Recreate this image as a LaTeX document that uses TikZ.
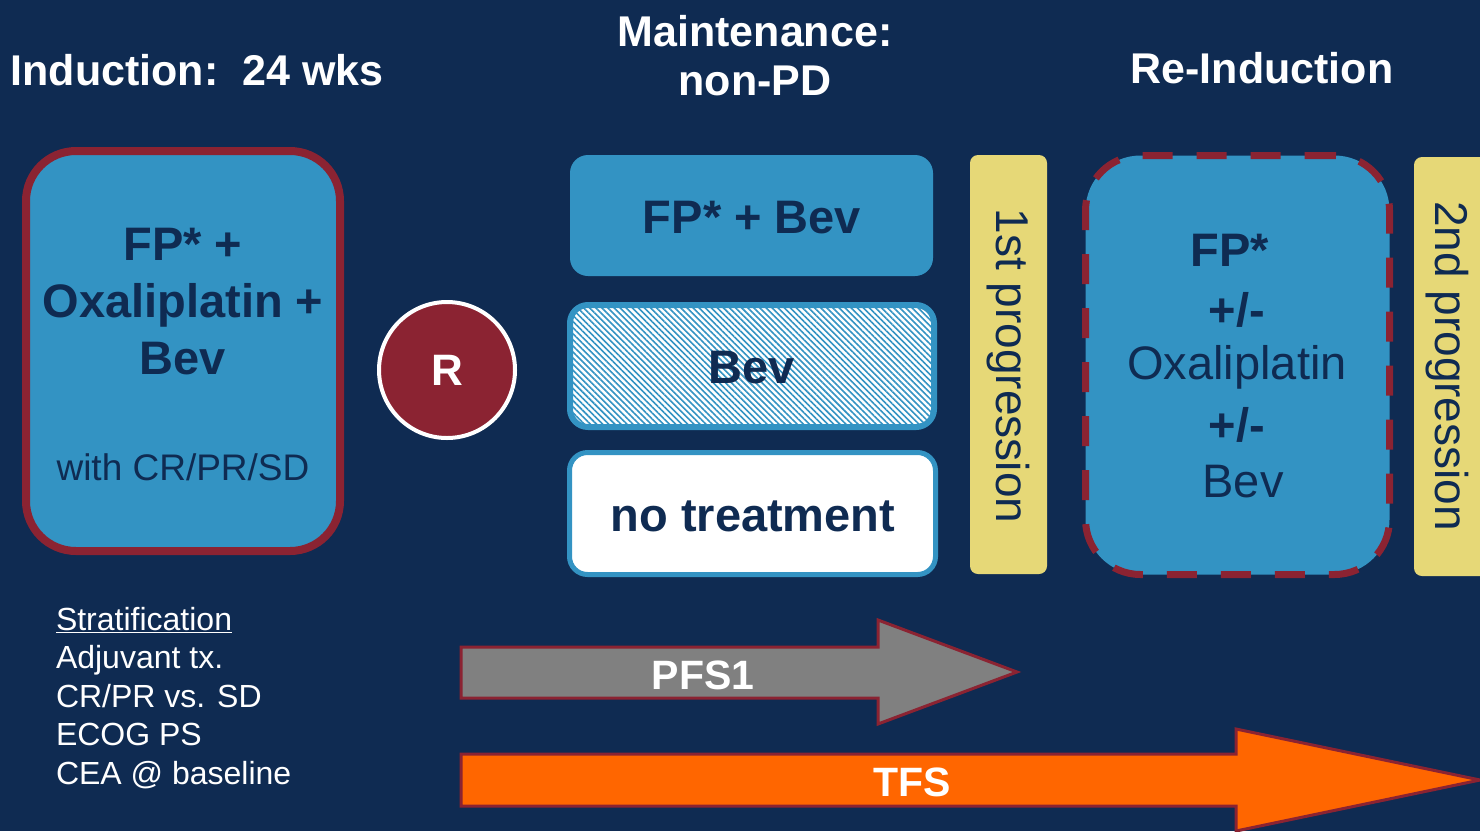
\documentclass[tikz,border=0pt]{standalone}
\usepackage{fontspec}
\setmainfont{Liberation Sans}
\usetikzlibrary{patterns.meta}
\definecolor{bgc}{HTML}{0F2B52}
\definecolor{boxblue}{HTML}{3393C3}
\definecolor{darktxt}{HTML}{0F2B52}
\definecolor{dred}{HTML}{8B2332}
\definecolor{pyellow}{HTML}{E6D877}
\definecolor{agray}{HTML}{808080}
\definecolor{aorange}{HTML}{FF6600}
\begin{document}
\begin{tikzpicture}[x=1pt,y=-1pt,
  every node/.style={inner sep=0pt, outer sep=0pt},
  titletxt/.style={text=white, font=\fontsize{43}{50}\selectfont\bfseries},
  bigb/.style={text=darktxt, font=\fontsize{47}{57}\selectfont\bfseries},
  bign/.style={text=darktxt, font=\fontsize{47}{57}\selectfont},
  medn/.style={text=darktxt, font=\fontsize{37}{44}\selectfont},
  progbox/.style={fill=pyellow, rounded corners=8pt, minimum width=77pt, minimum height=419pt},
  progtxt/.style={text=darktxt, font=\fontsize{46}{54}\selectfont, rotate=-90},
  maintbox/.style={rounded corners=18pt, minimum width=364pt, minimum height=122pt},
  arrowtxt/.style={text=white, font=\fontsize{41}{48}\selectfont\bfseries},
  arrowshape/.style={draw=dred, line width=3pt, line join=miter}
]
\fill[bgc] (0,0) rectangle (1480,831);
\useasboundingbox (0,0) rectangle (1480,831);

% titles
\node[titletxt] (t1) at (197,70) {Induction:\ \ 24 wks};
\node[titletxt] (t2a) at (755,31) {Maintenance:};
\node[titletxt] (t2b) at (755,81) {non-PD};
\node[titletxt] (t3) at (1262,68) {Re-Induction};

% induction box
\node[draw=dred, line width=8pt, fill=boxblue, rounded corners=50pt,
      minimum width=314pt, minimum height=400pt] (ind) at (183,351) {};
\node[bigb, align=center] (indtxt) at (183,302) {FP* +\\Oxaliplatin +\\Bev};
\node[medn] (indsub) at (183,467) {with CR/PR/SD};

% randomisation
\node[circle, fill=dred, draw=white, line width=4pt, minimum size=136pt,
      text=white, font=\fontsize{44}{50}\selectfont\bfseries] (R) at (447,370) {R};

% maintenance arms
\node[maintbox, fill=boxblue, minimum width=363pt, minimum height=121pt] (m1) at (751.5,215.5) {};
\node[bigb] (m1t) at (752,218) {FP* + Bev};
\node[maintbox, draw=boxblue, line width=6pt, preaction={fill=white},
      pattern={Lines[angle=-45, distance=4.3pt, line width=1.6pt]}, pattern color=boxblue] (m2) at (752,366) {};
\node[bigb] (m2t) at (752,368) {Bev};
\node[maintbox, draw=boxblue, line width=5pt, fill=white, minimum width=366pt] (m3) at (752.5,513.5) {};
\node[bigb] (m3t) at (753,516) {no treatment};

% progression bars
\node[progbox] (p1) at (1008.5,364.5) {};
\node[progtxt] (p1t) at (1008,366) {1st progression};
\node[progbox, minimum width=80pt] (p2) at (1454,366.5) {};
\node[progtxt] (p2t) at (1447,366) {2nd progression};

% re-induction box
\node[draw=dred, line width=7pt, dash pattern=on 30pt off 24pt, fill=boxblue,
      rounded corners=55pt, minimum width=304pt, minimum height=419pt] (ri) at (1237.5,365) {};
\node[bigb] (ri1) at (1230,250) {FP*};
\node[bigb] (ri2) at (1237,310) {+/-};
\node[bign] (ri3) at (1237,367) {Oxaliplatin};
\node[bigb] (ri4) at (1237,425) {+/-};
\node[bign] (ri5) at (1243,482) {Bev};

% stratification
\node[align=left, anchor=west, text=white, font=\fontsize{32}{38.5}\selectfont] (strat) at (56,698)
  {\underline{Stratification}\\Adjuvant tx.\\CR/PR vs. SD\\ECOG PS\\CEA @ baseline};

% PFS1 arrow
\draw[arrowshape, fill=agray] (461,647) -- (878,647) -- (878,620) -- (1017,672)
  -- (878,724) -- (878,698) -- (461,698) -- cycle;
\node[arrowtxt] (pfs) at (703,675) {PFS1};

% TFS arrow
\draw[arrowshape, fill=aorange] (461,754) -- (1236,754) -- (1236,729) -- (1480,780)
  -- (1236,831) -- (1236,806) -- (461,806) -- cycle;
\node[arrowtxt] (tfs) at (912,782) {TFS};
\end{tikzpicture}
\end{document}
